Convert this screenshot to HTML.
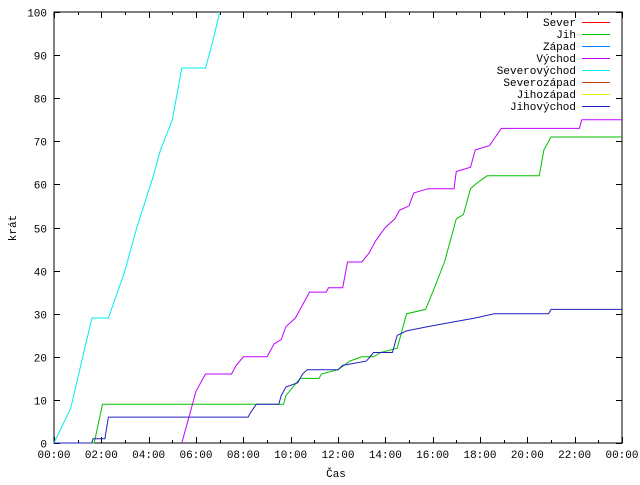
<!DOCTYPE html>
<html><head><meta charset="utf-8"><style>
body{margin:0;background:#fff}
text{font-family:"Liberation Mono","DejaVu Sans Mono",monospace;font-size:11px;fill:#000}
</style></head><body>
<svg id="chart" width="640" height="480" xmlns="http://www.w3.org/2000/svg">
<g id="grid"></g>
<g id="series"></g>
<g id="legend"></g>
<text x="336" y="477" text-anchor="middle">Čas</text>
<text transform="translate(16,228) rotate(-90)" text-anchor="middle">krát</text>
</svg>
<script>
const xTicks=["00:00","02:00","04:00","06:00","08:00","10:00","12:00","14:00","16:00","18:00","20:00","22:00","00:00"];
const yTicks=[0,10,20,30,40,50,60,70,80,90,100];
const seriesNames=["Sever","Jih","Západ","Východ","Severovýchod","Severozápad","Jihozápad","Jihovýchod"];
const seriesColors=["#ff0000","#00c000","#0080ff","#c000ff","#00eeee","#c04000","#eeee00","#2020c0"];
const jih=[[0,0],[1.7,0],[2.05,9],[9.7,9],[9.8,11],[10.4,15],[11.2,15],[11.3,16],[12.0,17],[12.5,19],[13.0,20],[13.5,20],[13.8,21],[14.5,22],[14.7,26],[14.9,30],[15.7,31],[16.0,35],[16.5,42],[17.0,52],[17.3,53],[17.6,59],[17.8,60],[18.3,62],[20.5,62],[20.7,68],[21.0,71],[24,71]];
const jihovychod=[[0,0],[1.6,0],[1.65,1],[2.15,1],[2.3,6],[8.2,6],[8.3,7],[8.55,9],[9.5,9],[9.6,11],[9.8,13],[10.3,14],[10.5,16],[10.7,17],[12.0,17],[12.2,18],[13.2,19],[13.5,21],[14.3,21],[14.5,25],[14.9,26],[15.8,27],[16.8,28],[17.8,29],[18.6,30],[20.9,30],[21.0,31],[24,31]];
const vychod=[[5.4,0],[5.8,8],[6.0,12],[6.4,16],[7.5,16],[7.7,18],[8.0,20],[9.0,20],[9.3,23],[9.6,24],[9.8,27],[10.2,29],[10.4,31],[10.8,35],[11.5,35],[11.6,36],[12.2,36],[12.4,42],[13.0,42],[13.3,44],[13.6,47],[14.0,50],[14.4,52],[14.6,54],[15.0,55],[15.2,58],[15.8,59],[16.9,59],[17.0,63],[17.6,64],[17.8,68],[18.4,69],[18.9,73],[22.2,73],[22.3,75],[24,75]];
const severovychod=[[0,0],[0.7,8],[1.0,15],[1.6,29],[2.3,29],[3.0,40],[3.5,50],[4.2,62],[4.5,68],[5.0,75],[5.4,87],[6.4,87],[6.7,93],[7.0,100]];
const L=54,R=622,T=12,B=443;
const xs=h=>L+(R-L)*h/24, ys=v=>B-(B-T)*v/100;
const NS="http://www.w3.org/2000/svg";
function mk(tag,attrs,parent){const e=document.createElementNS(NS,tag);for(const k in attrs)e.setAttribute(k,attrs[k]);parent.appendChild(e);return e;}
const g=document.getElementById('grid');
const fr=mk('rect',{x:L,y:T,width:R-L,height:B-T,fill:'none',stroke:'#000','stroke-width':1},g);


yTicks.forEach(v=>{const y=Math.round(ys(v))+0.5;
 const t=mk('path',{d:`M${L},${y}h6M${R},${y}h-6`,stroke:'#000'},g);
 
 
 const tx=mk('text',{x:L-7,y:y+4,'text-anchor':'end'},g);tx.textContent=v;
 
 });
for(let i=0;i<=24;i++){const x=Math.round(xs(i))+0.5,len=i%2?3:6;
 const t=mk('path',{d:`M${x},${B}v${-len}M${x},${T}v${len}`,stroke:'#000'},g);
 
 }
xTicks.forEach((s,i)=>{const tx=mk('text',{x:xs(i*2),y:B+15,'text-anchor':'middle'},g);tx.textContent=s;
 
 });
const sg=document.getElementById('series');
[[severovychod,4,'severovychod-line'],[jih,1,'jih-line'],[jihovychod,7,'jihovychod-line'],[vychod,3,'vychod-line']].forEach(([d,ci,n])=>{
 const p=mk('polyline',{points:d.map(q=>xs(q[0]).toFixed(1)+','+ys(q[1]).toFixed(1)).join(' '),fill:'none',stroke:seriesColors[ci],'stroke-width':1},sg);
 
 });
const lg=document.getElementById('legend');
seriesNames.forEach((n,i)=>{const y=22+i*12;
 const t=mk('text',{x:576,y:y+4,'text-anchor':'end'},lg);t.textContent=n;
 
 
 const l=mk('line',{x1:582,x2:610,y1:y+0.5,y2:y+0.5,stroke:seriesColors[i]},lg);
 
 });
</script>
</body></html>
